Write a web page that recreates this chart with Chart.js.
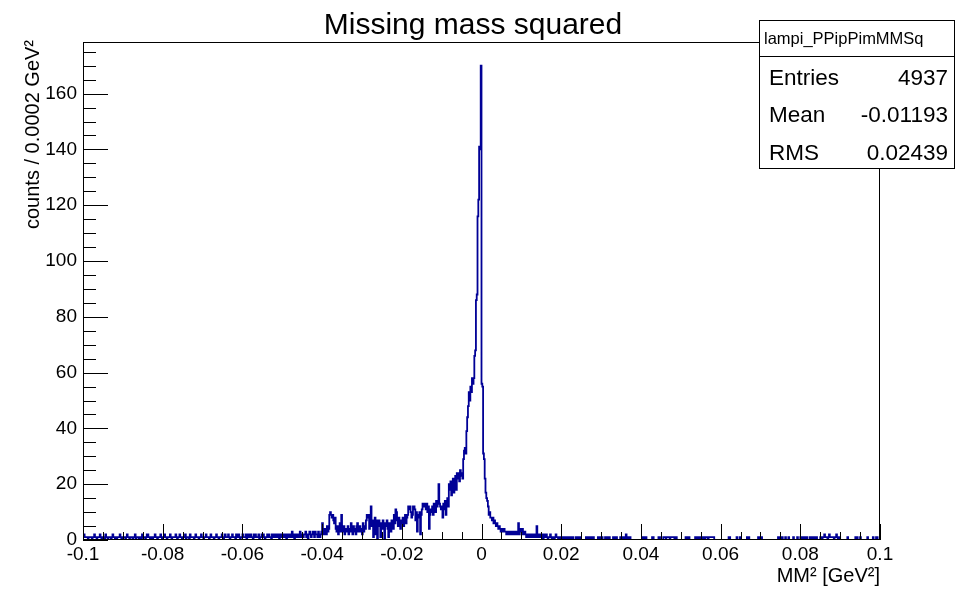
<!DOCTYPE html>
<html>
<head>
<meta charset="utf-8">
<title>Missing mass squared</title>
<script src="https://cdn.jsdelivr.net/npm/chart.js@4.4.1/dist/chart.umd.min.js"></script>
<style>
  html, body { margin: 0; padding: 0; background: #fff; }
  #wrap { width: 955px; height: 591px; position: relative; }
</style>
</head>
<body>
<div id="wrap"><canvas id="mmChart"></canvas></div>
<script>
// histogram range: 1000 bins of 0.0002 GeV^2 from -0.1 to 0.1
const xMin = -0.1;
const xMax = 0.1;
const binWidth = 0.0002;

// bin contents, read off the picture region by region
// -0.1 .. -0.04
const farLeft = [
  2,2,1,1,1,1,0,1,1,1, 1,0,1,1,2,1,1,0,1,1,
  1,2,1,0,1,1,1,0,2,1, 1,0,1,1,1,0,1,2,1,1,
  0,1,0,1,1,1,2,1,0,0, 1,1,1,0,1,2,1,1,0,1,
  1,1,0,1,1,2,0,1,1,1, 0,1,1,0,2,1,1,1,0,1,
  2,2,1,1,0,1,1,0,1,1, 2,1,1,0,1,1,1,2,1,0,
  1,1,2,1,1,0,1,1,1,2, 1,0,1,1,1,1,2,1,0,1,
  1,2,1,1,0,1,1,1,2,0, 1,1,1,0,2,1,1,1,1,0,
  1,2,1,1,1,0,1,1,2,1, 1,0,1,1,2,1,1,1,0,1,
  2,1,1,1,0,1,1,2,1,1, 0,1,1,1,2,1,0,1,2,1,
  1,1,2,1,0,1,1,2,1,1, 1,0,2,1,1,2,1,0,1,1,
  2,1,1,1,2,0,1,2,1,1, 2,1,1,0,2,1,2,1,1,1,
  2,0,1,1,2,1,2,1,0,1, 1,2,1,2,1,1,0,2,1,1,
  2,1,2,1,1,2,0,1,2,1, 2,1,1,2,1,0,2,1,2,2,
  1,1,3,1,2,0,1,2,2,1, 2,1,3,2,1,2,1,2,2,3,
  1,2,0,2,3,2,1,2,3,2, 1,3,2,2,1,3,2,1,2,3
];
// -0.04 .. -0.02
const leftShoulder = [
  6,3,2,4,3,2,5,3,4,9, 10,9,8,9,7,6,8,4,3,5,
  2,4,6,3,9,4,3,5,2,3, 4,3,5,2,4,3,6,4,2,5,
  3,4,2,5,6,3,4,5,3,4, 2,6,3,5,4,7,9,8,9,4,
  6,12,5,7,1,6,8,2,7,0, 6,7,5,1,6,4,7,5,0,6,
  5,7,4,1,6,5,3,7,6,4, 9,6,11,10,7,5,8,6,4,7
];
// -0.02 .. -0.01
const nearLeft = [
  6,8,5,7,9,6,8,9,12,11,
  12,10,8,9,12,12,11,7,10,3,
  9,8,10,2,9,11,13,12,13,12,
  11,13,10,12,4,9,11,10,12,9,
  13,11,10,14,12,13,20,13,12,11
];
// -0.01 .. 0
const peakRise = [
  12,8,13,11,14,9,13,15,12,20,
  18,21,16,19,22,17,20,23,18,24,
  22,24,21,25,23,24,22,29,32,33,
  31,39,44,48,53,50,55,53,58,56,
  58,66,68,86,88,116,122,141,140,170
];
// 0 .. 0.01
const peakFall = [
  56,55,31,29,22,17,15,14,12,9,
  10,8,8,7,8,6,7,6,5,6,
  5,4,5,4,3,4,3,3,4,3,
  3,2,3,3,2,3,2,3,2,2,
  3,2,3,2,2,3,6,2,4,3
];
// 0.01 .. 0.1
const rightTail = [
  3,4,2,3,3,2,1,2,1,2, 2,1,2,1,2,1,1,2,1,5, 2,1,2,1,1,2,1,0,2,1,
  1,2,1,0,1,1,2,1,0,1, 1,0,1,2,1,1,0,0,1,0, 0,1,1,0,1,1,0,1,1,0,
  1,1,0,1,1,0,0,0,1,1, 0,1,0,1,1,0,0,0,0,0, 0,1,0,1,1,0,0,1,0,0,
  1,0,0,0,0,0,1,0,1,1, 0,1,0,0,0,1,1,0,1,0, 1,0,0,0,0,1,0,1,0,1,
  0,0,0,0,1,1,0,1,1,0, 1,2,0,1,1,0,1,0,0,0, 0,0,0,0,0,0,0,0,0,0,
  0,0,1,0,1,0,1,0,0,0, 0,0,0,0,1,1,0,0,0,0, 0,0,1,1,0,0,0,0,1,1,
  1,0,1,1,1,1,0,1,1,1, 1,1,0,1,1,0,0,0,0,0, 0,0,0,0,0,0,1,1,0,1,
  1,0,0,0,0,0,0,0,1,1, 0,1,1,0,1,1,0,0,1,1, 0,1,1,1,0,1,1,1,1,1,
  1,1,0,0,0,0,0,0,0,0, 0,0,0,0,0,0,0,0,0,0, 1,1,0,0,0,0,0,0,0,0,
  1,0,0,0,1,0,0,0,0,0, 0,0,0,1,0,1,0,0,0,0, 0,0,0,0,0,0,0,1,1,0,
  0,1,0,0,0,0,0,0,0,0, 0,0,0,0,0,0,0,0,0,0, 0,0,1,1,0,1,0,1,0,0,
  0,1,0,0,0,1,0,0,0,0, 0,1,0,0,0,0,1,0,0,0, 1,0,1,1,0,1,0,0,1,0,
  0,0,1,0,1,1,0,1,0,0, 1,0,0,0,0,1,1,0,1,1, 2,1,1,1,0,1,2,1,1,1,
  1,1,0,1,1,2,1,0,1,1, 0,0,0,0,0,0,0,0,0,1, 0,0,0,0,0,0,0,0,0,1,
  0,1,0,0,0,1,0,0,0,0, 0,0,0,0,1,0,0,0,0,0, 0,1,0,0,0,1,1,0,0,0
];

// axis ticks and labels
const xTickValues = [-0.1, -0.08, -0.06, -0.04, -0.02, 0, 0.02, 0.04, 0.06, 0.08, 0.1];
const xTickLabels = ['-0.1', '-0.08', '-0.06', '-0.04', '-0.02', '0', '0.02', '0.04', '0.06', '0.08', '0.1'];
const yTickValues = [0, 20, 40, 60, 80, 100, 120, 140, 160];
const yMax = 178.5;

// text
const chartTitle = 'Missing mass squared';
const xTitle = 'MM\u00B2 [GeV\u00B2]';
const yTitle = 'counts / 0.0002 GeV\u00B2';
const statsName = 'lampi_PPipPimMMSq';
const statsLabels = ['Entries', 'Mean', 'RMS'];
const statsValues = ['4937', '-0.01193', '0.02439'];

const FONT = "'Liberation Sans', Arial, Helvetica, sans-serif";
Chart.defaults.font.family = FONT;
Chart.defaults.color = '#000';

// build step points: one point per bin left edge plus the closing edge
const counts = [].concat(farLeft, leftShoulder, nearLeft, peakRise, peakFall, rightTail);
const points = counts.map((c, i) => ({ x: xMin + i * binWidth, y: c }));
points.push({ x: xMax, y: counts[counts.length - 1] });

// ROOT-like frame, inner ticks, titles and stats box
const rootStyle = {
  id: 'rootStyle',
  afterDraw(chart) {
    const ctx = chart.ctx;
    const a = chart.chartArea;
    const xs = chart.scales.x;
    const ys = chart.scales.y;
    ctx.save();
    ctx.strokeStyle = '#000';
    ctx.lineWidth = 1;

    // frame
    ctx.strokeRect(Math.round(a.left) + 0.5, Math.round(a.top) + 0.5,
      Math.round(a.right - a.left) - 1, Math.round(a.bottom - a.top) - 1);

    // x ticks (major every 0.02, minor every 0.005)
    ctx.beginPath();
    for (let k = 0; k <= 40; k++) {
      const v = xMin + k * 0.005;
      const px = Math.round(xs.getPixelForValue(v)) + 0.5;
      const len = k % 4 === 0 ? 16 : 8;
      ctx.moveTo(px, a.bottom);
      ctx.lineTo(px, a.bottom - len);
    }
    // y ticks (major every 20, minor every 5)
    for (let v = 0; v <= yMax; v += 5) {
      const py = Math.round(ys.getPixelForValue(v)) + 0.5;
      const len = v % 20 === 0 ? 25 : 13;
      ctx.moveTo(a.left, py);
      ctx.lineTo(a.left + len, py);
    }
    ctx.stroke();

    // title
    ctx.fillStyle = '#000';
    ctx.font = '30px ' + FONT;
    ctx.textAlign = 'center';
    ctx.textBaseline = 'alphabetic';
    ctx.fillText(chartTitle, 473, 34);

    // x axis title
    ctx.font = '20px ' + FONT;
    ctx.textAlign = 'right';
    ctx.fillText(xTitle, a.right, 582);

    // y axis title
    ctx.save();
    ctx.translate(39, 40);
    ctx.rotate(-Math.PI / 2);
    ctx.textAlign = 'right';
    ctx.fillText(yTitle, 0, 0);
    ctx.restore();

    // stats box
    const bx = 759.5, by = 20.5, bw = 195, bh = 148;
    ctx.fillStyle = '#fff';
    ctx.fillRect(bx, by, bw, bh);
    ctx.strokeRect(bx, by, bw, bh);
    ctx.beginPath();
    ctx.moveTo(bx, 56.5);
    ctx.lineTo(bx + bw, 56.5);
    ctx.stroke();
    ctx.fillStyle = '#000';
    ctx.textAlign = 'left';
    ctx.font = '16.5px ' + FONT;
    ctx.fillText(statsName, 764, 44);
    ctx.font = '22.5px ' + FONT;
    const rowBase = [85, 122, 160];
    statsLabels.forEach((lab, i) => {
      ctx.textAlign = 'left';
      ctx.fillText(lab, 769, rowBase[i]);
      ctx.textAlign = 'right';
      ctx.fillText(statsValues[i], 948, rowBase[i]);
    });
    ctx.restore();
  }
};

const ctx = document.getElementById('mmChart').getContext('2d');
new Chart(ctx, {
  type: 'line',
  data: {
    datasets: [{
      data: points,
      borderColor: '#000096',
      borderWidth: 1.8,
      pointRadius: 0,
      stepped: true,
      fill: false
    }]
  },
  options: {
    responsive: true,
    maintainAspectRatio: false,
    animation: false,
    layout: { padding: { left: 0, right: 75, top: 42, bottom: 0 } },
    plugins: {
      legend: { display: false },
      tooltip: { enabled: false },
      title: { display: false }
    },
    scales: {
      x: {
        type: 'linear',
        min: xMin,
        max: xMax,
        grid: { display: false, drawTicks: false },
        border: { display: false },
        afterBuildTicks: s => { s.ticks = xTickValues.map(v => ({ value: v })); },
        afterFit: s => { s.height = 51; },
        ticks: {
          font: { size: 19 },
          color: '#000',
          padding: 3,
          maxRotation: 0,
          autoSkip: false,
          callback: (v, i) => xTickLabels[i]
        }
      },
      y: {
        min: 0,
        max: yMax,
        grid: { display: false, drawTicks: false },
        border: { display: false },
        afterBuildTicks: s => { s.ticks = yTickValues.map(v => ({ value: v })); },
        afterFit: s => { s.width = 83; },
        ticks: {
          font: { size: 19 },
          color: '#000',
          padding: 6,
          callback: v => String(v)
        }
      }
    }
  },
  plugins: [rootStyle]
});
</script>
</body>
</html>
